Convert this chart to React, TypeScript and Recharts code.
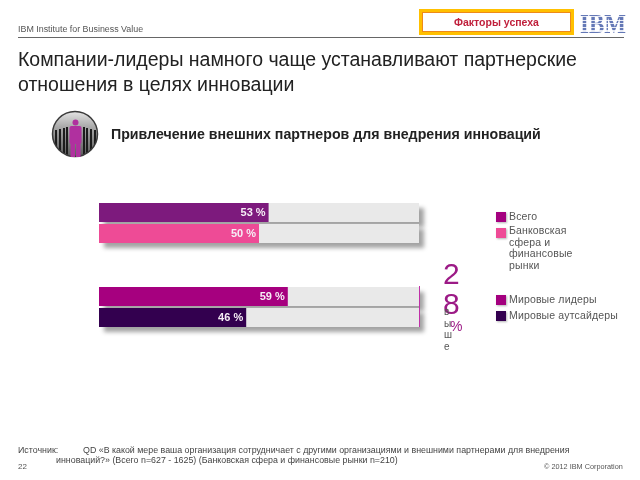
import { Bar, BarChart, Cell, LabelList, Legend, XAxis, YAxis } from "recharts";

const groupOneRows = ["Всего", "Банковская сфера и финансовые рынки"];
const groupOneValues = [53, 50];
const groupOneColors = ["#7d1a7d", "#ee4b96"];
const groupOneLegendColors = ["#a4007f", "#ee4b96"];

const groupTwoRows = ["Мировые лидеры", "Мировые аутсайдеры"];
const groupTwoValues = [59, 46];
const groupTwoColors = ["#a6007f", "#33004f"];
const groupTwoLegendColors = ["#a4007f", "#33004f"];

const sideLetters = ["в", "ы", "ш", "е"];

const SHADOW = "drop-shadow(5px 5px 2px rgba(0,0,0,0.36))";
const FONT = "'Liberation Sans', Arial, sans-serif";

function makeRows(rows: string[], values: number[]) {
  return rows.map((name, i) => ({ name, value: values[i] }));
}

function LegendBlock({ rows, colors, wrap }: { rows: string[]; colors: string[]; wrap?: boolean }) {
  return (
    <div style={{ fontFamily: FONT, fontSize: 10.5, letterSpacing: 0.15, color: "#555", textAlign: "left" }}>
      {rows.map((name, i) => (
        <div key={name} style={{ display: "flex", alignItems: "flex-start", marginBottom: wrap ? 4 : 5 }}>
          <span
            style={{
              width: 10,
              height: 10,
              marginTop: 1,
              marginRight: 3,
              flex: "none",
              background: colors[i],
              boxShadow: "1px 1px 2px rgba(0,0,0,0.3)",
            }}
          />
          <span style={{ width: wrap ? 66 : 125, lineHeight: "11.8px", marginTop: wrap && i === 1 ? -2 : 0 }}>
            {name}
          </span>
        </div>
      ))}
    </div>
  );
}

function GroupChart({
  rows,
  values,
  colors,
  legendColors,
  top,
  legendTop,
  wrap,
}: {
  rows: string[];
  values: number[];
  colors: string[];
  legendColors: string[];
  top: number;
  legendTop: number;
  wrap?: boolean;
}) {
  return (
    <div style={{ position: "absolute", left: 0, top, width: 640, height: 150 }}>
      <BarChart
        width={640}
        height={150}
        layout="vertical"
        data={makeRows(rows, values)}
        margin={{ top: 0, right: 221, bottom: 108, left: 99 }}
        barCategoryGap={1}
      >
        <XAxis type="number" domain={[0, 100]} hide />
        <YAxis type="category" dataKey="name" hide />
        {/* centered + middle keeps the legend from taking room off the plot */}
        <Legend
          layout="horizontal"
          verticalAlign="middle"
          align="center"
          wrapperStyle={{ left: 496, top: legendTop, width: 140 }}
          content={() => <LegendBlock rows={rows} colors={legendColors} wrap={wrap} />}
        />
        <Bar
          dataKey="value"
          isAnimationActive={false}
          background={{ fill: "#e9e9e9", style: { filter: SHADOW } }}
        >
          {rows.map((name, i) => (
            <Cell key={name} fill={colors[i]} />
          ))}
          <LabelList
            dataKey="value"
            position="insideRight"
            offset={3}
            formatter={(v: number) => `${v} %`}
            style={{ fill: "#f6eef6", fontFamily: FONT, fontSize: 11, fontWeight: 700 }}
          />
        </Bar>
      </BarChart>
    </div>
  );
}

function Icon() {
  return (
    <svg width={48} height={48} style={{ position: "absolute", left: 51, top: 110 }}>
      <defs>
        <linearGradient id="iconFill" x1="0" y1="0" x2="0" y2="1">
          <stop offset="0" stopColor="#e4e4e4" />
          <stop offset="0.35" stopColor="#a8a8a8" />
          <stop offset="1" stopColor="#5a5a5a" />
        </linearGradient>
        <clipPath id="iconClip">
          <circle cx={24} cy={24} r={22} />
        </clipPath>
      </defs>
      <circle cx={24} cy={24} r={22.5} fill="url(#iconFill)" stroke="#3a3a3a" strokeWidth={1.5} />
      <g clipPath="url(#iconClip)" fill="#1c1c1c">
        <rect x={4} y={20} width={2} height={18} />
        <rect x={8} y={19} width={2} height={24} />
        <rect x={12} y={18} width={2} height={26} />
        <rect x={15} y={17} width={2} height={28} />
        <rect x={32} y={17} width={2} height={28} />
        <rect x={35} y={18} width={2} height={26} />
        <rect x={39} y={19} width={2} height={24} />
        <rect x={43} y={20} width={2} height={18} />
      </g>
      <g fill="#b0309f">
        <circle cx={24.5} cy={12.5} r={3} />
        <rect x={18.5} y={16} width={12} height={18} rx={2} />
        <rect x={19.5} y={33} width={4.5} height={14} />
        <rect x={25} y={33} width={4.5} height={14} />
      </g>
    </svg>
  );
}

const text = (left: number, top: number, size: number, color: string) =>
  ({
    position: "absolute",
    left,
    top,
    fontFamily: FONT,
    fontSize: size,
    color,
    lineHeight: 1,
    whiteSpace: "nowrap",
  }) as const;

export default function App() {
  return (
    <div
      style={{
        position: "absolute",
        left: 0,
        top: 0,
        width: 640,
        height: 480,
        background: "#fff",
        overflow: "hidden",
        filter: "blur(0.3px)",
      }}
    >
      <div style={text(18, 25, 8.9, "#555")}>IBM Institute for Business Value</div>
      <div style={{ position: "absolute", left: 18, top: 37, width: 606, height: 1, background: "#666" }} />

      <div
        style={{
          position: "absolute",
          left: 419,
          top: 9,
          width: 155,
          height: 26,
          boxSizing: "border-box",
          border: "3px solid #ffc000",
          outline: "1px solid #ee8a1a",
          outlineOffset: -4,
          background: "#fff",
          color: "#c0203c",
          fontFamily: FONT,
          fontSize: 10.5,
          fontWeight: 700,
          textAlign: "center",
          lineHeight: "20px",
        }}
      >
        Факторы успеха
      </div>
      <div
        style={{
          ...text(580, 10, 23, "transparent"),
          fontFamily: "'Liberation Serif', serif",
          fontWeight: 700,
          background: "repeating-linear-gradient(#6478b6 0 2px, #e6e9f4 2px 3px)",
          WebkitBackgroundClip: "text",
          backgroundClip: "text",
          transform: "scaleY(1.2)",
          transformOrigin: "top left",
        }}
      >
        IBM
      </div>

      <div style={{ ...text(18, 47, 19.5, "#222"), lineHeight: "25px" }}>
        Компании-лидеры намного чаще устанавливают партнерские
        <br />
        отношения в целях инновации
      </div>

      <Icon />
      <div style={{ ...text(111, 127, 14.2, "#222"), fontWeight: 700 }}>
        Привлечение внешних партнеров для внедрения инноваций
      </div>

      <GroupChart
        rows={groupOneRows}
        values={groupOneValues}
        colors={groupOneColors}
        legendColors={groupOneLegendColors}
        top={202}
        legendTop={9}
        wrap
      />
      <GroupChart
        rows={groupTwoRows}
        values={groupTwoValues}
        colors={groupTwoColors}
        legendColors={groupTwoLegendColors}
        top={285.5}
        legendTop={8}
      />
      <div style={{ position: "absolute", left: 419, top: 286, width: 1, height: 41, background: "#c030a8" }} />

      <div style={text(443, 259, 30, "#9c1a86")}>2</div>
      <div style={text(443, 289, 30, "#9c1a86")}>8</div>
      <div style={text(450, 319, 14, "#9c1a86")}>%</div>
      {sideLetters.map((ch, i) => (
        <div key={ch} style={text(444, 307 + i * 11.5, 10, "#555")}>
          {ch}
        </div>
      ))}

      <div style={text(18, 446, 8.85, "#444")}>Источник:</div>
      <div style={text(83, 446, 8.85, "#444")}>
        QD «В какой мере ваша организация сотрудничает с другими организациями и внешними партнерами для внедрения
      </div>
      <div style={text(56, 456, 8.85, "#444")}>
        инноваций?» (Всего n=627 - 1625) (Банковская сфера и финансовые рынки n=210)
      </div>
      <div style={text(18, 463, 8, "#555")}>22</div>
      <div style={text(544, 463, 7.3, "#555")}>© 2012 IBM Corporation</div>
    </div>
  );
}
